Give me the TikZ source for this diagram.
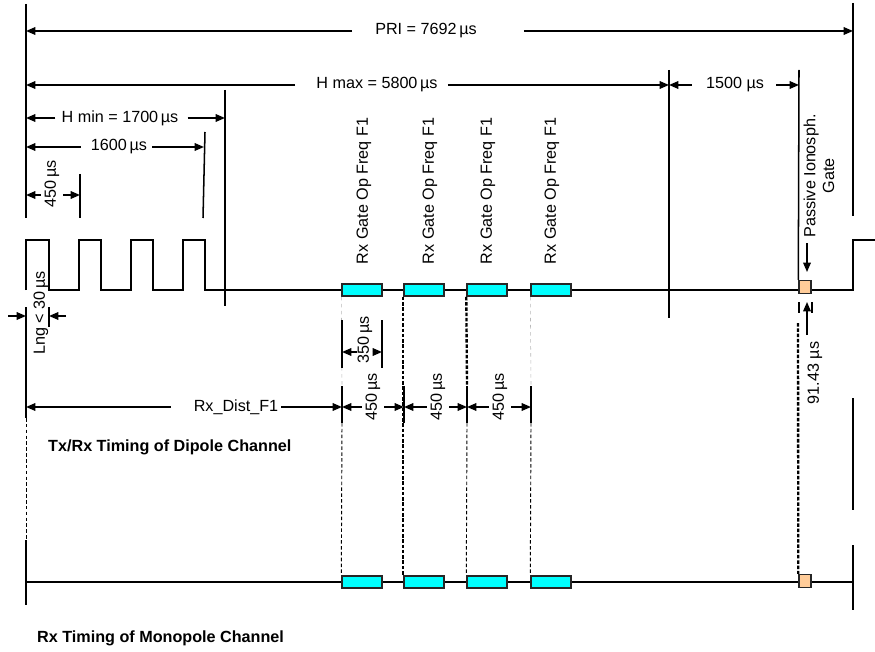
\documentclass[tikz,border=0pt]{standalone}
\usepackage{fontspec}
\setmainfont{Liberation Sans}
\usetikzlibrary{arrows.meta,calc}
\definecolor{peach}{RGB}{255,204,153}
\definecolor{gatecyan}{RGB}{0,255,255}

\tikzset{
  wire/.style={line width=1.3pt},
  dim/.style={line width=1.3pt, -{Triangle[length=8pt,width=6.5pt]}},
  lbl/.style={font=\fontsize{13.8}{16}\selectfont, inner sep=0pt},
  vlbl/.style={lbl, rotate=90, inner ysep=3pt},
  chanlabel/.style={lbl, font=\fontsize{13.8}{16}\selectfont\bfseries, anchor=west},
  rxgate/.style={draw=black!85, line width=1.2pt, fill=gatecyan, minimum width=1.2cm,
    minimum height=0.37cm, inner sep=0pt},
  ionogate/.style={rxgate, fill=peach, minimum width=0.36cm, minimum height=0.39cm},
  guidegray/.style={gray!55, dashed, line width=0.5pt},
  guidethin/.style={dash pattern=on 3pt off 2pt, line width=0.8pt},
  guidethick/.style={dash pattern=on 3pt off 1.5pt, line width=2pt},
}

\begin{document}
\begin{tikzpicture}[x=0.03cm, y=-0.03cm]
    \useasboundingbox (0,0) rectangle (875,652);

    % ends of the dimension lines
    \coordinate (priL) at (26,31);   \coordinate (priR) at (853,31);
    \coordinate (hmaxL) at (26,85);  \coordinate (hmaxR) at (669,85);
    \coordinate (tfR) at (799,85);
    \coordinate (hminL) at (26,118); \coordinate (hminR) at (225,118);
    \coordinate (sixL) at (26,147);  \coordinate (sixR) at (204,147);
    \coordinate (q0) at (26,195);    \coordinate (q1) at (80,195);
    \coordinate (dL) at (26,407);
    \coordinate (s0) at (342,352);   \coordinate (s1) at (382,352);
    \foreach \n/\x in {0/342,1/404,2/467,3/531} {\coordinate (d\n) at (\x,407);}

    % vertical reference lines
    \draw[wire] (26,4) -- (26,218);
    \draw[wire] (26,307) -- (26,418);
    \draw[guidethin] (26,418) -- (26,540);
    \draw[wire] (26,540) -- (26,605);
    \draw[wire] (853,3) -- (853,216);
    \draw[wire] (853,398) -- (853,510);
    \draw[wire] (853,545) -- (853,610);
    \draw[wire] (225,90) -- (225,306);
    \draw[wire] (205,132) -- (203,218);
    \draw[wire] (80,174) -- (80,218);
    \draw[wire] (669,70) -- (669,318);

    % transmit pulses and time axes
    \draw[wire] (26,290) -- (26,240) -| (49,290) -| (79,240) -| (101,290)
        -| (131,240) -| (153,290) -| (183,240) -| (205,290) -- (853,290) |- (875,240);
    \draw[wire] (26,582) -- (853,582);

    % receive gates
    \foreach \i/\x/\lx in {1/362/364, 2/424/430, 3/487/488, 4/551/552} {
        \node[rxgate] (g\i) at (\x,290) {};
        \node[rxgate] (m\i) at (\x,582) {};
        \node[vlbl] (gl\i) at (\lx,191) {Rx Gate Op Freq F1};
    }
    \node[ionogate] (pg) at (805,287) {};
    \node[ionogate] (mp) at (805,581) {};
    \draw[wire] (799,70) -- (pg.north west);
    \node[vlbl, align=center] (pgl) at (819,176) {Passive Ionosph.\\Gate};
    \coordinate (pb0) at (807,243); \coordinate (pb1) at (807,272);
    \draw[dim] (pb0) -- (pb1);

    % guides down to the monopole channel
    \draw[guidegray] (g1.south west) -- ($(d0)+(0,-21)$);
    \draw[guidethin] ($(d0)+(0,16)$) -- (m1.north west);
    \draw[guidethick] (g2.south west) -- (m2.north west);
    \draw[guidethick] (g3.south west) -- ($(d2)+(0,-21)$);
    \draw[guidethin] ($(d2)+(0,16)$) -- (m3.north west);
    \draw[guidegray] (g4.south west) -- ($(d3)+(0,-21)$);
    \draw[guidethin] ($(d3)+(0,16)$) -- (m4.north west);
    \coordinate (pgd) at (798,323);
    \draw[guidethick] (pgd) -- (mp.north west);

    % horizontal dimensions
    \node[lbl] (pri) at (426,31) {PRI = 7692\,µs};
    \draw[dim] ($(pri.west)+(-23,0)$) -- (priL);
    \draw[dim] ($(pri.east)+(47,0)$) -- (priR);
    \node[lbl] (hmax) at (377,85) {H max = 5800\,µs};
    \draw[dim] ($(hmax.west)+(-21,0)$) -- (hmaxL);
    \draw[dim] ($(hmax.east)+(10,0)$) -- (hmaxR);
    \node[lbl] (tf) at (735,85) {1500 µs};
    \draw[dim] ($(tf.west)+(-14,0)$) -- (hmaxR);
    \draw[dim] ($(tf.east)+(12,0)$) -- (tfR);
    \node[lbl] (hmin) at (120,118) {H min = 1700\,µs};
    \draw[dim] ($(hmin.west)+(-6,0)$) -- (hminL);
    \draw[dim] ($(hmin.east)+(9,0)$) -- (hminR);
    \node[lbl] (six) at (119,147) {1600\,µs};
    \draw[dim] ($(six.west)+(-10,0)$) -- (sixL);
    \draw[dim] ($(six.east)+(5,0)$) -- (sixR);
    \node[vlbl] (q450) at (52,184) {450\,µs};
    \draw[dim] (q450.north |- q0) -- (q0);
    \draw[dim] (q450.south |- q1) -- (q1);

    % pulse length
    \coordinate (lng0) at (26,316); \coordinate (lng1) at (49,316);
    \coordinate (lngA) at (8,316);  \coordinate (lngB) at (66,316);
    \draw[wire] (49,307) -- (49,327);
    \draw[dim] (lngA) -- (lng0);
    \draw[dim] (lngB) -- (lng1);
    \node[vlbl] (lng) at (41,313) {Lng < 30\,µs};

    % gate width and spacing
    \draw[wire] (342,320) -- (342,368);
    \draw[wire] (382,320) -- (382,368);
    \node[vlbl, inner ysep=0pt] (w350) at (365,340) {350\,µs};
    \draw[dim] (w350.north |- s0) -- (s0);
    \draw[dim] (w350.south |- s1) -- (s1);
    \foreach \n in {0,...,3} {\draw[wire] ($(d\n)+(0,-21)$) -- ($(d\n)+(0,16)$);}
    \node[lbl] (rxd) at (236,407) {Rx\_Dist\_F1};
    \draw[dim] ($(rxd.west)+(-23,0)$) -- (dL);
    \draw[dim] ($(rxd.east)+(3,0)$) -- (d0);
    \foreach \n/\m/\tx in {0/1/373, 1/2/438, 2/3/500} {
        \node[vlbl] (w\m) at (\tx,397) {450\,µs};
        \draw[dim] (w\m.north |- d\n) -- (d\n);
        \draw[dim] (w\m.south |- d\m) -- (d\m);
    }

    % passive gate width
    \draw[wire] (799,302) -- (799,313);
    \draw[wire] (812,302) -- (812,313);
    \coordinate (pa0) at (807,302); \coordinate (pa1) at (807,335);
    \draw[dim] (pa1) -- (pa0);
    \node[vlbl] (p91) at (815,373) {91.43 µs};

    % channel titles
    \node[chanlabel] (dipole) at (48,447) {Tx/Rx Timing of Dipole Channel};
    \node[chanlabel] (mono) at (37,638) {Rx Timing of Monopole Channel};
\end{tikzpicture}
\end{document}
